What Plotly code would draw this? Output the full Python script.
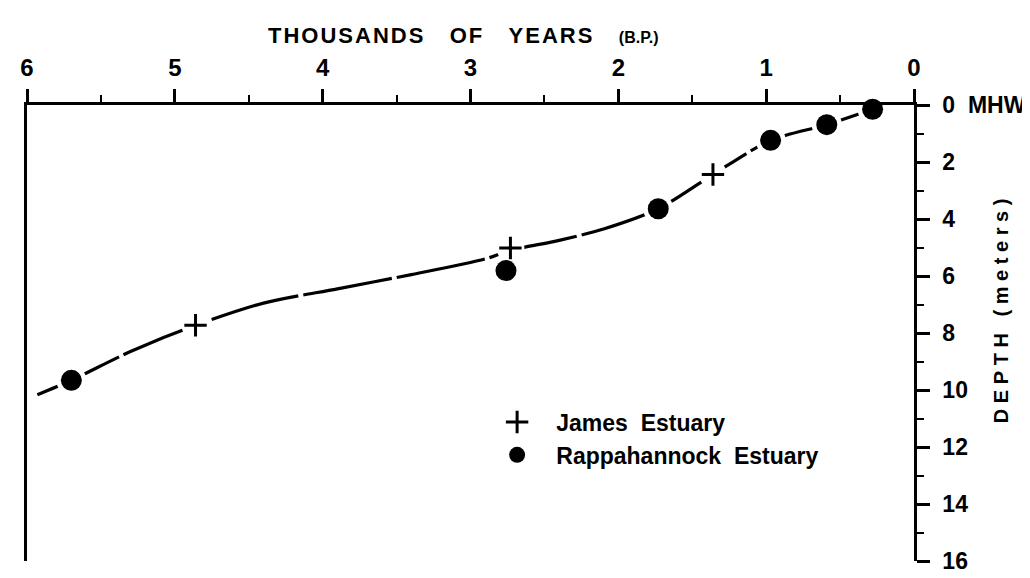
import plotly.graph_objects as go

# Data (x: thousands of years B.P., y: depth in meters below MHW)
james_x = [4.86, 2.73, 1.36]
james_y = [7.73, 5.02, 2.44]

rapp_x = [5.70, 2.76, 1.73, 0.97, 0.59, 0.28]
rapp_y = [9.66, 5.81, 3.64, 1.24, 0.69, 0.15]

curve_x = [5.93, 5.70, 5.30, 4.86, 4.40, 3.90, 3.40, 2.90, 2.73, 2.40, 2.10, 1.73, 1.36, 0.97, 0.59, 0.28]
curve_y = [10.17, 9.66, 8.65, 7.73, 6.95, 6.45, 5.95, 5.40, 5.10, 4.75, 4.35, 3.64, 2.44, 1.24, 0.69, 0.15]

x_tickvals = [6, 5, 4, 3, 2, 1, 0]
x_ticktext = ["6", "5", "4", "3", "2", "1", "0"]
y_tickvals = [0, 2, 4, 6, 8, 10, 12, 14, 16]
y_ticktext = ["0\u00a0\u00a0MHW", "2", "4", "6", "8", "10", "12", "14", "16"]

FONT = "Liberation Sans"
INK = "black"

fig = go.Figure()

# fitted curve
fig.add_trace(go.Scatter(
    x=curve_x, y=curve_y, mode="lines",
    line=dict(color=INK, width=3.2, shape="spline", smoothing=0.8, dash="90px,5px"),
    showlegend=False, hoverinfo="skip", cliponaxis=False,
))

# white halos to open gaps in the curve around the symbols
fig.add_trace(go.Scatter(
    x=james_x, y=james_y, mode="markers",
    marker=dict(symbol="circle", size=28, color="white"),
    showlegend=False, hoverinfo="skip", cliponaxis=False,
))
fig.add_trace(go.Scatter(
    x=rapp_x, y=rapp_y, mode="markers",
    marker=dict(symbol="circle", size=30, color="white"),
    showlegend=False, hoverinfo="skip", cliponaxis=False,
))

fig.add_trace(go.Scatter(
    x=james_x, y=james_y, mode="markers",
    name="\u00a0\u00a0\u00a0James\u00a0\u00a0Estuary",
    marker=dict(symbol="cross-thin", size=16, color=INK, line=dict(color=INK, width=3)),
    legendgroup="j", cliponaxis=False,
))
fig.add_trace(go.Scatter(
    x=rapp_x, y=rapp_y, mode="markers",
    name="\u00a0\u00a0\u00a0Rappahannock\u00a0\u00a0Estuary",
    marker=dict(symbol="circle", size=21, color=INK),
    legendgroup="r", cliponaxis=False,
))

fig.update_layout(
    width=1030, height=578,
    margin=dict(l=15, r=124, t=97, b=16),
    paper_bgcolor="white", plot_bgcolor="white",
    font=dict(family=FONT, color=INK, size=20, weight="bold"),
    legend=dict(
        x=0.53, y=0.352, xanchor="left", yanchor="top",
        bgcolor="rgba(0,0,0,0)", tracegroupgap=0,
        font=dict(family=FONT, size=23, color=INK, weight="bold"),
    ),
    xaxis=dict(
        side="top", range=[6, 0], autorange=False,
        tickvals=x_tickvals, ticktext=x_ticktext,
        ticks="outside", ticklen=13, tickwidth=2.5, tickcolor=INK,
        minor=dict(dtick=0.5, tick0=0, ticks="outside", ticklen=7, tickwidth=2, tickcolor=INK),
        showline=True, linecolor=INK, linewidth=2.5,
        showgrid=False, zeroline=False,
        tickfont=dict(family=FONT, size=24, color=INK, weight="bold"),
        ticklabelstandoff=4,
    ),
    yaxis=dict(
        side="right", range=[16, 0], autorange=False,
        tickvals=y_tickvals, ticktext=y_ticktext,
        ticks="outside", ticklen=13, tickwidth=2.5, tickcolor=INK,
        minor=dict(dtick=1, tick0=0, ticks="outside", ticklen=7, tickwidth=2, tickcolor=INK),
        showline=True, mirror=True, linecolor=INK, linewidth=2.5,
        showgrid=False, zeroline=False,
        tickfont=dict(family=FONT, size=23, color=INK, weight="bold"),
        ticklabelstandoff=8,
    ),
    annotations=[
        dict(
            text="<span style='letter-spacing:2px'>THOUSANDS\u00a0\u00a0\u00a0OF\u00a0\u00a0\u00a0YEARS</span>"
                 "\u00a0\u00a0\u00a0\u00a0<span style='font-size:16px'>(B.P.)</span>",
            xref="paper", yref="paper", x=0.27, y=1.153, xanchor="left", yanchor="middle",
            showarrow=False, font=dict(family=FONT, size=22, color=INK, weight="bold"),
        ),
        dict(
            text="D\u00a0E\u00a0P\u00a0T\u00a0H\u00a0\u00a0\u00a0(\u00a0m\u00a0e\u00a0t\u00a0e\u00a0r\u00a0s\u00a0)",
            xref="paper", yref="paper", x=1.098, y=0.55, xanchor="center", yanchor="middle",
            textangle=-90, showarrow=False,
            font=dict(family=FONT, size=20, color=INK, weight="bold"),
        ),
    ],
)

fig.write_html("out.html")
